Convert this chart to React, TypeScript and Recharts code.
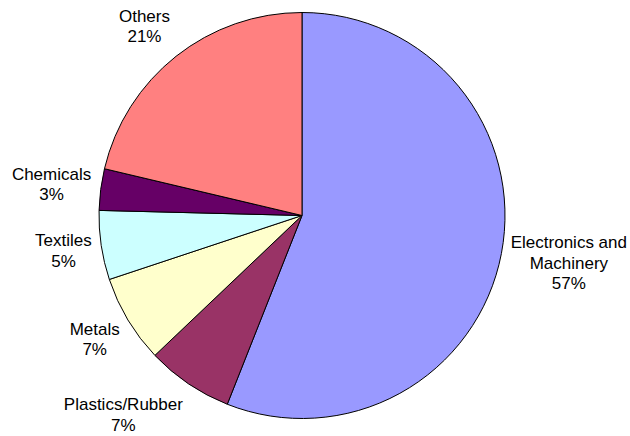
import { Cell, Pie, PieChart } from "recharts";

// share of imports by sector (%)
const sectors = [
	"Electronics and Machinery",
	"Plastics/Rubber",
	"Metals",
	"Textiles",
	"Chemicals",
	"Others",
];
const shares = [56.0, 6.9, 7.0, 5.5, 3.3, 21.3];
// percentages as printed on the chart
const shareLabels = ["57%", "7%", "7%", "5%", "3%", "21%"];
const colors = ["#9999FF", "#993366", "#FFFFCC", "#CCFFFF", "#660066", "#FF8080"];

const data = sectors.map((name, i) => ({ name, value: shares[i], label: shareLabels[i] }));

const FONT = "'Liberation Sans', Arial, sans-serif";
const FONT_SIZE = 17;
const LINE_H = 20.5;

let ctx: CanvasRenderingContext2D | null = null;
function textWidth(s: string) {
	if (!ctx) ctx = document.createElement("canvas").getContext("2d");
	if (!ctx) return s.length * 8;
	ctx.font = `${FONT_SIZE}px ${FONT}`;
	return ctx.measureText(s).width;
}

function wrap(name: string) {
	if (name.length <= 16) return [name];
	const words = name.split(" ");
	const lines: string[] = [];
	let cur = "";
	for (const w of words) {
		if (cur && (cur + " " + w).length > 16) {
			lines.push(cur);
			cur = w;
		} else cur = cur ? cur + " " + w : w;
	}
	if (cur) lines.push(cur);
	return lines;
}

function renderLabel(props: any) {
	const { cx, cy, midAngle, outerRadius, name, payload } = props;
	const lines = [...wrap(name), payload.label];
	const rad = (midAngle * Math.PI) / 180;
	const cos = Math.cos(rad);
	const sin = Math.sin(rad);
	const R = outerRadius + 9;
	const w = Math.max(...lines.map(textWidth));
	const h = lines.length * LINE_H;
	const x = cx + R * cos + Math.sign(cos) * (w / 2 + 0.5);
	const y = cy - R * sin - 1.4 * sin * (h / 2);
	return (
		<g>
			{lines.map((l, i) => (
				<text
					key={i}
					x={x}
					y={y + (i - (lines.length - 1) / 2) * LINE_H}
					textAnchor="middle"
					dominantBaseline="central"
					fill="#000"
					fontFamily={FONT}
					fontSize={FONT_SIZE}
				>
					{l}
				</text>
			))}
		</g>
	);
}

export default function App() {
	return (
		<div style={{ position: "absolute", left: 0, top: 0, background: "#fff" }}>
			<PieChart width={630} height={436} margin={{ top: 0, right: 0, bottom: 0, left: 0 }}>
				<Pie
					data={data}
					dataKey="value"
					nameKey="name"
					cx={302}
					cy={215.5}
					outerRadius={203}
					startAngle={90}
					endAngle={-270}
					stroke="#000"
					strokeWidth={1}
					label={renderLabel}
					labelLine={false}
					isAnimationActive={false}
				>
					{data.map((d, i) => (
						<Cell key={d.name} fill={colors[i]} />
					))}
				</Pie>
			</PieChart>
		</div>
	);
}
